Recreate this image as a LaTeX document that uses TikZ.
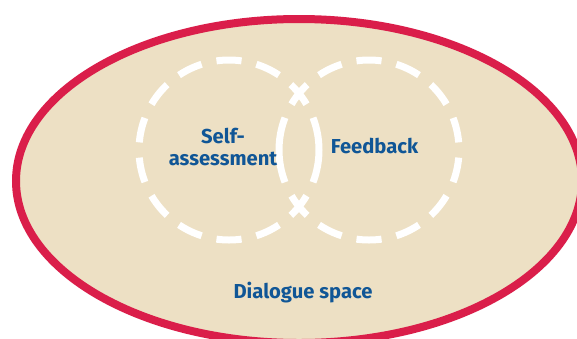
\documentclass[tikz,border=0pt]{standalone}
\usepackage{fontspec}
\setmainfont{Fira Sans}
\definecolor{rimred}{RGB}{218,30,74}
\definecolor{sand}{RGB}{237,224,196}
\definecolor{labelblue}{RGB}{16,86,150}
\begin{document}
\begin{tikzpicture}[x=1pt,y=-1pt,
    rim/.style={draw=rimred,line width=8pt,fill=sand},
    dashring/.style={draw=white,line width=7pt,line cap=butt},
    label/.style={text=labelblue,font=\fontsize{20.2}{22.5}\selectfont\bfseries,inner sep=0pt,align=center}]
  \useasboundingbox (0,0) rectangle (577,338);
  % dialogue space
  \path[rim] (299,181) ellipse [x radius=283, y radius=162];
  % two dashed circles: fourteen dash slots each, the two slots facing
  % the other circle joined into one long dash
  \coordinate (cl) at (229,150);
  \coordinate (cr) at (369,150);
  \foreach \k in {0,...,9,12,13}{
    \pgfmathsetmacro{\a}{90+\k*360/14}
    \draw[dashring] (cl) ++(\a-8:90) arc[start angle=\a-8, end angle=\a+8, radius=90];
  }
  \draw[dashring] (cl) ++(-21:90) arc[start angle=-21, end angle=21, radius=90];
  \foreach \k in {0,1,2,5,6,...,13}{
    \pgfmathsetmacro{\a}{90+\k*360/14}
    \draw[dashring] (cr) ++(\a-8:90) arc[start angle=\a-8, end angle=\a+8, radius=90];
  }
  \draw[dashring] (cr) ++(159:90) arc[start angle=159, end angle=201, radius=90];
  % labels
  \node[label] (self) at (223,147) {Self-\\assessment};
  \node[label,anchor=base] (feedback) at (374.5,153) {Feedback};
  \node[label,anchor=base] (dialogue) at (303,298) {Dialogue space};
\end{tikzpicture}
\end{document}
